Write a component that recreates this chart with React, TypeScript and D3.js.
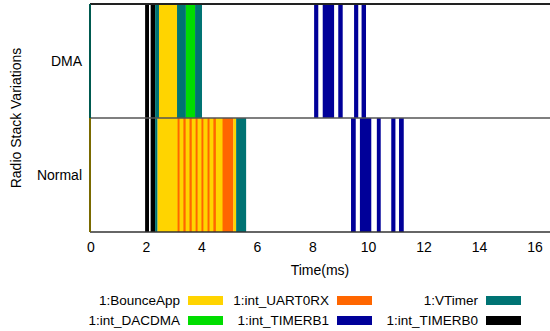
import * as d3 from 'd3';
import React from 'react';

// rows (y categories)
const rows = ['DMA', 'Normal'];

// event categories for the legend, in legend order (3 columns x 2 rows)
const categories = [
  '1:BounceApp', '1:int_UART0RX', '1:VTimer',
  '1:int_DACDMA', '1:int_TIMERB1', '1:int_TIMERB0',
];
const catColors = ['#FFD400', '#FF6600', '#007373', '#00DD00', '#000099', '#000000'];

const xTicks = [0, 2, 4, 6, 8, 10, 12, 14, 16];

// [start ms, end ms, category index]
const dmaEvents: [number, number, number][] = [
  [1.95, 2.09, 5], [2.15, 2.31, 5], [2.31, 2.45, 2], [2.45, 3.10, 0],
  [3.10, 3.42, 2], [3.42, 3.75, 3], [3.75, 4.00, 2],
  [8.04, 8.19, 4], [8.35, 8.76, 4], [8.91, 9.07, 4], [9.48, 9.63, 4], [9.75, 9.91, 4],
];

const normalEvents: [number, number, number][] = [
  [1.95, 2.09, 5], [2.15, 2.31, 5], [2.31, 2.40, 2], [2.40, 5.13, 0],
  [3.12, 3.19, 1], [3.33, 3.41, 1], [3.55, 3.63, 1], [3.77, 3.84, 1],
  [3.98, 4.05, 1], [4.20, 4.27, 1], [4.41, 4.50, 1], [4.74, 5.13, 1],
  [5.13, 5.23, 0], [5.23, 5.59, 2],
  [9.37, 9.54, 4], [9.69, 10.10, 4], [10.30, 10.44, 4], [10.82, 10.97, 4], [11.10, 11.27, 4],
];

const eventsByRow = [dmaEvents, normalEvents];

const W = 550;
const H = 331;
const font = 'Liberation Sans, Arial, sans-serif';
const fs = 14;
const legendFs = 13.5;

export default function App() {
  const x = d3.scaleLinear().domain([0, 16.54]).range([91, 550]);
  const y = d3.scaleBand<string>().domain(rows).range([4, 232]).padding(0);
  const top = 4;
  const bottom = 232;

  const legendCols = [180, 329, 478];
  const legendRows = [300, 320];

  return (
    <svg width={W} height={H} style={{ position: 'absolute', left: 0, top: 0, background: '#fff' }}
      fontFamily={font}>
      <rect width={W} height={H} fill="#fff" />
      {/* event bars */}
      {eventsByRow.map((evs, ri) => (
        <g key={rows[ri]}>
          {evs.map((e, i) => (
            <rect key={i} x={x(e[0])} y={y(rows[ri])!} width={x(e[1]) - x(e[0])}
              height={y.bandwidth()} fill={catColors[e[2]]} />
          ))}
        </g>
      ))}
      {/* borders */}
      <line x1={x(0) - 1} x2={W} y1={top} y2={top} stroke="#222" strokeWidth={2} />
      <line x1={x(0) - 1} x2={W} y1={y('Normal')!} y2={y('Normal')!} stroke="#555" strokeWidth={1.5} />
      <line x1={x(0) - 1} x2={W} y1={bottom} y2={bottom} stroke="#333" strokeWidth={1.5} />
      <line x1={x(0) - 1} x2={x(0) - 1} y1={top} y2={y('Normal')!} stroke="#005a50" strokeWidth={2} />
      <line x1={x(0) - 1} x2={x(0) - 1} y1={y('Normal')!} y2={bottom} stroke="#7a6a00" strokeWidth={2} />
      {/* x tick labels */}
      {xTicks.map((t) => (
        <text key={t} x={x(t)} y={252} textAnchor="middle" fontSize={fs} fill="#000">{t}</text>
      ))}
      <text x={320} y={275} textAnchor="middle" fontSize={fs} fill="#000">Time(ms)</text>
      {/* y labels */}
      {rows.map((r) => (
        <text key={r} x={82} y={y(r)! + y.bandwidth() / 2 + 5} textAnchor="end" fontSize={fs} fill="#000">{r}</text>
      ))}
      <text transform={`translate(21,${(top + bottom) / 2}) rotate(-90)`} textAnchor="middle" fontSize={fs} fill="#000">
        Radio Stack Variations
      </text>
      {/* legend */}
      {categories.map((c, i) => {
        const col = i % 3;
        const row = Math.floor(i / 3);
        const lx = legendCols[col];
        const ly = legendRows[row];
        return (
          <g key={c}>
            <text x={lx} y={ly + 5} textAnchor="end" fontSize={legendFs} fill="#000">{c}</text>
            <rect x={lx + 8} y={ly - 4} width={35} height={9} fill={catColors[i]} />
          </g>
        );
      })}
    </svg>
  );
}
